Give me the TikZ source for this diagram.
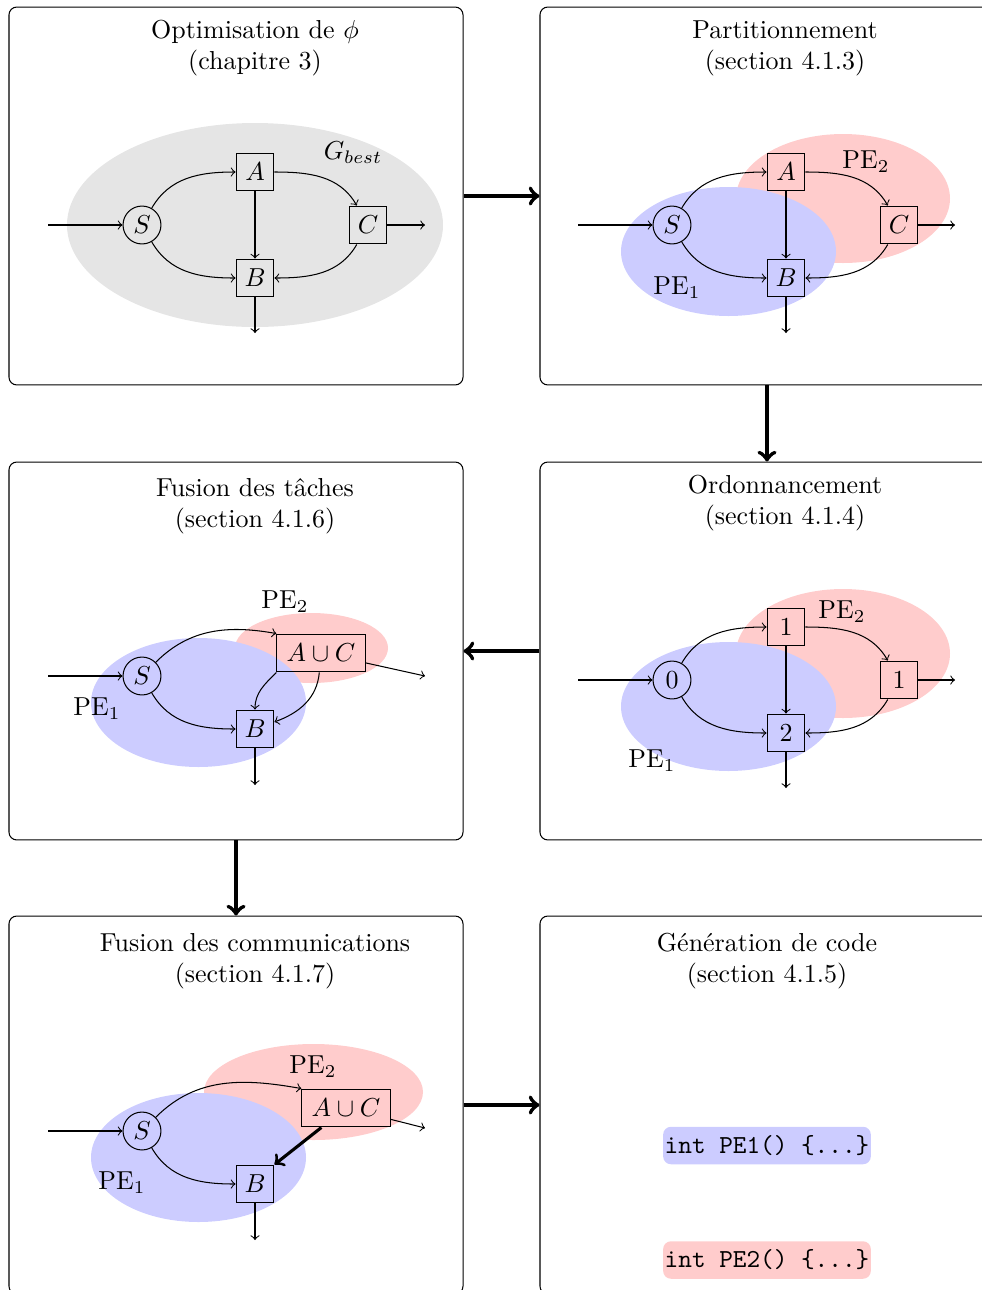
\documentclass[tikz,border=0pt]{standalone}
\usepackage{fontspec}
\usepackage{xcolor}

\begin{document}
\begin{tikzpicture}[x=0.385pt, y=0.385pt,
    stage/.style={draw, rounded corners=3pt, minimum width=174.8pt, minimum height=145.5pt},
    title/.style={align=center},
    src/.style={draw, circle, minimum size=14.6pt, inner sep=0pt},
    task/.style={draw, minimum size=14.6pt, inner sep=0pt},
    merged/.style={draw, minimum width=34pt, minimum height=14.6pt, inner sep=2pt},
    flow/.style={->},
    stagearrow/.style={->, ultra thick},
    codebox/.style={font=\ttfamily, rounded corners=3pt, inner xsep=0.6pt, minimum height=14.2pt}
]

\useasboundingbox (0,0) rectangle (982,-1290);
\clip (0,0) rectangle (982,-1290);

% Cadres des étapes
\node[stage] (st1) at (236,-196) {};
\node[stage] (st2) at (767,-196) {};
\node[stage] (st3) at (236,-651) {};
\node[stage] (st4) at (767,-651) {};
\node[stage] (st5) at (236,-1105) {};
\node[stage] (st6) at (767,-1105) {};

% Titres
\node[title] (t1) at (255,-48) {Optimisation de $\phi$\\(chapitre 3)};
\node[title] (t2) at (785,-48) {Partitionnement\\(section 4.1.3)};
\node[title] (t3) at (255,-506) {Fusion des tâches\\(section 4.1.6)};
\node[title] (t4) at (785,-503) {Ordonnancement\\(section 4.1.4)};
\node[title] (t5) at (255,-961) {Fusion des communications\\(section 4.1.7)};
\node[title] (t6) at (767,-961) {Génération de code\\(section 4.1.5)};

% Enchaînement des étapes
\draw[stagearrow] (st1) -- (st2);
\draw[stagearrow] (st2) -- (st4);
\draw[stagearrow] (st4) -- (st3);
\draw[stagearrow] (st3) -- (st5);
\draw[stagearrow] (st5) -- (st6);

% Zones (G_best, PE1, PE2)
\fill[black!10] (255,-225) ellipse [x radius=188, y radius=102];
\fill[red!20] (843,-198.5) ellipse [x radius=107, y radius=64.5];
\fill[blue!20] (728.5,-251.5) ellipse [x radius=107.5, y radius=64.5];
\fill[red!20] (311.5,-648) ellipse [x radius=76.5, y radius=35];
\fill[blue!20] (198.5,-702.5) ellipse [x radius=107.5, y radius=64.5];
\fill[red!20] (843,-653.5) ellipse [x radius=107, y radius=64.5];
\fill[blue!20] (728.5,-706.5) ellipse [x radius=107.5, y radius=64.5];
\fill[red!20] (313.5,-1092) ellipse [x radius=109.5, y radius=48];
\fill[blue!20] (198.5,-1157.5) ellipse [x radius=107.5, y radius=64.5];

% Graphe initial
\coordinate (in1) at (48,-225);
\coordinate (outc1) at (425,-225);
\coordinate (outb1) at (255,-333);
\node[src] (s1) at (142,-225) {$S$};
\node[task] (a1) at (255,-172) {$A$};
\node[task] (b1) at (255,-278) {$B$};
\node[task] (c1) at (368,-225) {$C$};
\node (g1) at (353,-153) {$G_{best}$};
\draw[flow] (in1) -- (s1);
\draw[flow] (s1) to[out=60, in=180] (a1);
\draw[flow] (s1) to[out=-60, in=180] (b1);
\draw[flow] (a1) -- (b1);
\draw[flow] (a1) to[out=0, in=120] (c1);
\draw[flow] (c1) to[out=-120, in=0] (b1);
\draw[flow] (c1) -- (outc1);
\draw[flow] (b1) -- (outb1);

% Partitionnement
\coordinate (in2) at (578,-225);
\coordinate (outc2) at (955,-225);
\coordinate (outb2) at (786,-333);
\node[src] (s2) at (672,-225) {$S$};
\node[task] (a2) at (786,-172) {$A$};
\node[task] (b2) at (786,-278) {$B$};
\node[task] (c2) at (899,-225) {$C$};
\node (pe2a) at (866,-162) {PE$_2$};
\node (pe1a) at (677,-288) {PE$_1$};
\draw[flow] (in2) -- (s2);
\draw[flow] (s2) to[out=60, in=180] (a2);
\draw[flow] (s2) to[out=-60, in=180] (b2);
\draw[flow] (a2) -- (b2);
\draw[flow] (a2) to[out=0, in=120] (c2);
\draw[flow] (c2) to[out=-120, in=0] (b2);
\draw[flow] (c2) -- (outc2);
\draw[flow] (b2) -- (outb2);

% Ordonnancement
\coordinate (in4) at (578,-680);
\coordinate (outc4) at (955,-680);
\coordinate (outb4) at (786,-788);
\node[src] (s4) at (672,-680) {0};
\node[task] (a4) at (786,-627) {1};
\node[task] (b4) at (786,-733) {2};
\node[task] (c4) at (899,-680) {1};
\node (pe2b) at (842,-612) {PE$_2$};
\node (pe1b) at (652,-761) {PE$_1$};
\draw[flow] (in4) -- (s4);
\draw[flow] (s4) to[out=60, in=180] (a4);
\draw[flow] (s4) to[out=-60, in=180] (b4);
\draw[flow] (a4) -- (b4);
\draw[flow] (a4) to[out=0, in=120] (c4);
\draw[flow] (c4) to[out=-120, in=0] (b4);
\draw[flow] (c4) -- (outc4);
\draw[flow] (b4) -- (outb4);

% Fusion des tâches
\coordinate (in3) at (48,-676);
\coordinate (out3) at (425,-676);
\coordinate (outb3) at (255,-785);
\node[src] (s3) at (142,-676) {$S$};
\node[task] (b3) at (255,-729) {$B$};
\node[merged] (ac3) at (321,-653) {$A\cup C$};
\node (pe2c) at (285,-602) {PE$_2$};
\node (pe1c) at (97,-709) {PE$_1$};
\draw[flow] (in3) -- (s3);
\draw[flow] (s3) to[out=45, in=170] (ac3.north west);
\draw[flow] (s3) to[out=-60, in=180] (b3);
\draw[flow] (ac3.south west) to[out=-135, in=90] (b3);
\draw[flow] (ac3) to[out=-95, in=20] (b3);
\draw[flow] (ac3) -- (out3);
\draw[flow] (b3) -- (outb3);

% Fusion des communications
\coordinate (in5) at (48,-1131);
\coordinate (out5) at (425,-1128);
\coordinate (outb5) at (255,-1240);
\node[src] (s5) at (142,-1131) {$S$};
\node[task] (b5) at (255,-1184) {$B$};
\node[merged] (ac5) at (346,-1108) {$A\cup C$};
\node (pe2d) at (313,-1067) {PE$_2$};
\node (pe1d) at (122,-1183) {PE$_1$};
\draw[flow] (in5) -- (s5);
\draw[flow] (s5) to[out=45, in=170] (ac5.north west);
\draw[flow] (s5) to[out=-60, in=180] (b5);
\draw[flow, very thick] (ac5) -- (b5.north east);
\draw[flow] (ac5) -- (out5);
\draw[flow] (b5) -- (outb5);

% Code généré
\node[codebox, fill=blue!20] (code1) at (767,-1145.5) {int PE1() \{...\}};
\node[codebox, fill=red!20] (code2) at (767,-1260) {int PE2() \{...\}};

\end{tikzpicture}
\end{document}
